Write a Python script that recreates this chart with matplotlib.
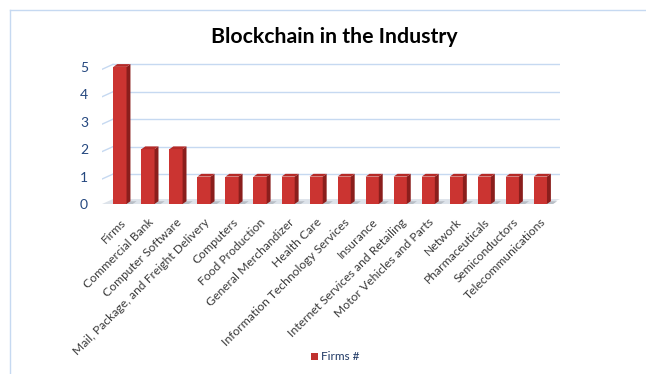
import matplotlib
matplotlib.use('Agg')
import matplotlib.pyplot as plt
from matplotlib.patches import Polygon
from matplotlib.lines import Line2D
import numpy as np

plt.rcParams['font.family'] = ['Lato', 'DejaVu Sans']

industries = ['Firms', 'Commercial Bank', 'Computer Software',
              'Mail, Package, and Freight Delivery', 'Computers',
              'Food Production', 'General Merchandizer', 'Health Care',
              'Information Technology Services', 'Insurance',
              'Internet Services and Retailing', 'Motor Vehicles and Parts',
              'Network', 'Pharmaceuticals', 'Semiconductors',
              'Telecommunications']
firms = [5, 2, 2, 1, 1, 1, 1, 1, 1, 1, 1, 1, 1, 1, 1, 1]
yticks = [0, 1, 2, 3, 4, 5]

W, H = 646, 374
fig = plt.figure(figsize=(W / 100, H / 100), dpi=100)
ax = fig.add_axes([102 / W, 1 - 204 / H, 458 / W, 144 / H])

x = np.arange(len(firms))
ax.set_xlim(-0.64, len(firms) - 0.3)
ax.set_ylim(0, 5.25)

grid_c = '#C6D9F1'
gdx, gdy = 0.39, 0.18
x0 = -0.64
# floor shadow
floor = Polygon([(x0, 0), (x0 + gdx, gdy), (len(firms) - 0.3, gdy),
                 (len(firms) - 0.3 - gdx, 0)], closed=True,
                facecolor='#DDE3EA', edgecolor='none', zorder=1)
ax.add_patch(floor)
for v in yticks[1:]:
    ax.plot([x0, x0 + gdx], [v - gdy / 2, v + gdy / 2], color=grid_c, lw=1, zorder=1)
    ax.plot([x0 + gdx, len(firms) - 0.3], [v + gdy / 2, v + gdy / 2],
            color=grid_c, lw=1, zorder=1)

bw = 0.47
bdx, bdy = 0.14, 0.1
ax.bar(x, firms, width=bw, color='#CB3431', edgecolor='none', zorder=3)
for xi, v in zip(x, firms):
    r = xi + bw / 2
    l = xi - bw / 2
    side = Polygon([(r, 0), (r + bdx, bdy), (r + bdx, v + bdy), (r, v)],
                   closed=True, facecolor='#8A1E1C', edgecolor='none', zorder=3)
    top = Polygon([(l, v), (l + bdx, v + bdy), (r + bdx, v + bdy), (r, v)],
                  closed=True, facecolor='#B52A27', edgecolor='none', zorder=3)
    ax.add_patch(side)
    ax.add_patch(top)
    # shadow on floor
    sh = Polygon([(r, 0), (r + 0.22, 0), (r + 0.22 + bdx, bdy), (r + bdx, bdy)],
                 closed=True, facecolor='#B8BEC6', edgecolor='none', zorder=2)
    ax.add_patch(sh)

for s in ax.spines.values():
    s.set_visible(False)
ax.set_yticks(yticks)
ax.set_yticklabels([str(t) for t in yticks], fontsize=10, color='#24477F')
ax.tick_params(axis='y', length=0, pad=10)
ax.set_xticks(x)
ax.set_xticklabels(industries, rotation=45, ha='right', va='top',
                   rotation_mode='anchor', fontsize=8.7, color='#3A3A3A')
ax.tick_params(axis='x', length=0, pad=9)

fig.text(334 / W, 1 - 37 / H, 'Blockchain in the Industry', ha='center',
         va='center', fontsize=15.3, fontweight='bold', color='black')

# legend
fig.patches.append(Polygon([(311 / W, 1 - 353 / H), (318 / W, 1 - 353 / H),
                            (318 / W, 1 - 360 / H), (311 / W, 1 - 360 / H)],
                           closed=True, transform=fig.transFigure,
                           facecolor='#C0312E', edgecolor='none'))
fig.text(321 / W, 1 - 357 / H, 'Firms #', ha='left', va='center',
         fontsize=8.5, color='#1F3864')

# chart border
fig.add_artist(Line2D([10 / W, 10 / W], [1 - 10 / H, 0], color=grid_c, lw=1,
                      transform=fig.transFigure))
fig.add_artist(Line2D([10 / W, 1], [1 - 10 / H, 1 - 10 / H], color=grid_c, lw=1,
                      transform=fig.transFigure))

fig.savefig('out.png', dpi=100)
